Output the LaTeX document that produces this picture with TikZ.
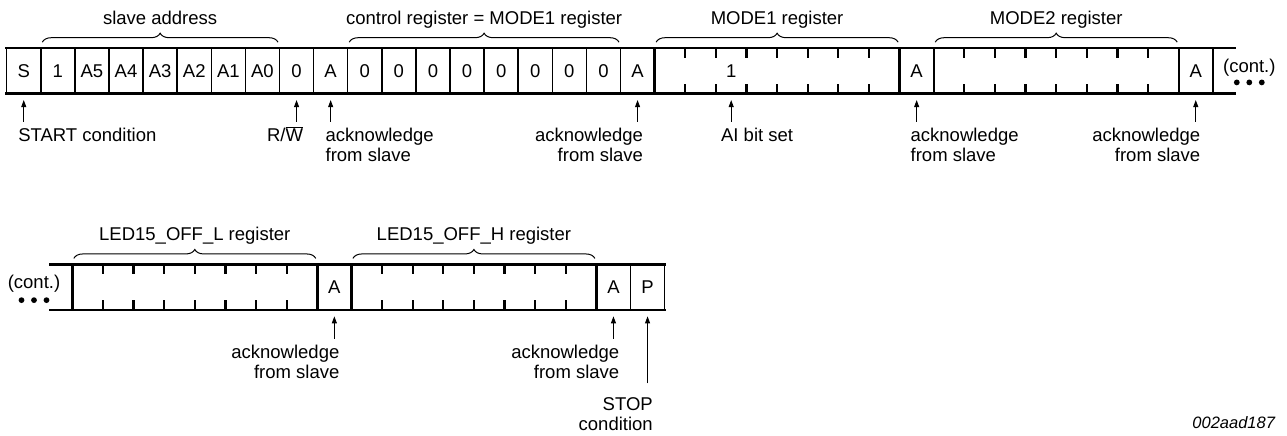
\documentclass[tikz,border=0pt]{standalone}
\usepackage{fontspec}
\setmainfont{Liberation Sans}
\usetikzlibrary{positioning, arrows.meta, decorations.pathreplacing}
\tikzstyle{cell} = [rectangle, draw=black, line width=1.5pt, minimum width=34.1pt, minimum height=45.4pt, inner sep=0pt, outer sep=0pt, text centered]
\tikzstyle{field} = [rectangle, draw=black, line width=2.4pt, minimum width=245pt, minimum height=45.4pt, inner sep=0pt, outer sep=0pt]
\tikzstyle{bus} = [line width=2.6pt, line cap=rect]
\tikzstyle{bittick} = [line width=2.2pt]
\tikzstyle{regbrace} = [decorate, decoration={brace, amplitude=9pt}, line width=1pt]
\tikzstyle{bracelbl} = [midway, anchor=base, yshift=17.5pt, inner sep=0pt]
\tikzstyle{lbl} = [inner sep=0pt, outer sep=0pt]
\tikzstyle{arrow} = [line width=0.9pt, -{Triangle[length=7pt, width=5pt]}, shorten >=6.5pt, shorten <=6.5pt]

\begin{document}
\begin{tikzpicture}[x=1pt, y=-1pt, font=\fontsize{18.5pt}{20pt}\selectfont]
\useasboundingbox (0,0) rectangle (1287,436);

% first frame: address, control register, MODE1, MODE2
\node (s) [cell] at (23.75,70.9) {S};
\node (b1) [cell, right=0pt of s] {1};
\node (a5) [cell, right=0pt of b1] {A5};
\node (a4) [cell, right=0pt of a5] {A4};
\node (a3) [cell, right=0pt of a4] {A3};
\node (a2) [cell, right=0pt of a3] {A2};
\node (a1) [cell, right=0pt of a2] {A1};
\node (a0) [cell, right=0pt of a1] {A0};
\node (rw) [cell, right=0pt of a0] {0};
\node (ack1) [cell, right=0pt of rw] {A};
\node (c7) [cell, right=0pt of ack1] {0};
\node (c6) [cell, right=0pt of c7] {0};
\node (c5) [cell, right=0pt of c6] {0};
\node (c4) [cell, right=0pt of c5] {0};
\node (c3) [cell, right=0pt of c4] {0};
\node (c2) [cell, right=0pt of c3] {0};
\node (c1) [cell, right=0pt of c2] {0};
\node (c0) [cell, right=0pt of c1] {0};
\node (ack2) [cell, right=0pt of c0] {A};
\node (mode1) [field, right=0pt of ack2] {};
\node (aibit) at ([xshift=76.6pt]mode1.west) {1};
\node (ack3) [cell, right=0pt of mode1] {A};
\node (mode2) [field, right=0pt of ack3] {};
\node (ack4) [cell, right=0pt of mode2] {A};
\coordinate (topn) at ([xshift=21.5pt]ack4.north east);
\coordinate (tops) at ([xshift=21.5pt]ack4.south east);
\node (conta) [lbl] at ([xshift=36.5pt, yshift=3.5pt]ack4.east) {(cont.)};

\draw [bus] (s.north west) -- (topn);
\draw [bus] (s.south west) -- (tops);

% second frame: LED15_OFF_L, LED15_OFF_H, stop
\node (ledl) [field] at (194.8,287.15) {};
\node (ack5) [cell, right=0pt of ledl] {A};
\node (ledh) [field, right=0pt of ack5] {};
\node (ack6) [cell, right=0pt of ledh] {A};
\node (stopbit) [cell, right=0pt of ack6] {P};
\coordinate (botn) at ([xshift=-22.3pt]ledl.north west);
\coordinate (bots) at ([xshift=-22.3pt]ledl.south west);
\node (contb) [lbl] at ([xshift=-38.3pt, yshift=3pt]ledl.west) {(cont.)};

\draw [bus] (botn) -- (stopbit.north east);
\draw [bus] (bots) -- (stopbit.south east);

% bit ticks in the register fields
\foreach \f in {mode1, mode2, ledl, ledh}
  \foreach \k in {1,...,7} {
    \draw [bittick] ([xshift=\k*30.625pt]\f.north west) -- ++(0,10);
    \draw [bittick] ([xshift=\k*30.625pt]\f.south west) -- ++(0,-10);
  }

% continuation dots
\foreach \dx in {-12.5,0,12.5} {
  \fill ([xshift=\dx pt, yshift=-15pt]conta.center) circle (2.9pt);
  \fill ([xshift=\dx pt, yshift=-16pt]contb.center) circle (2.9pt);
}

% braces
\draw [regbrace] ([xshift=1.5pt, yshift=6pt]b1.north west) -- ([xshift=-1.5pt, yshift=6pt]a0.north east) node[bracelbl] {slave address};
\draw [regbrace] ([xshift=1.5pt, yshift=6pt]c7.north west) -- ([xshift=-1.5pt, yshift=6pt]c0.north east) node[bracelbl] {control register = MODE1 register};
\draw [regbrace] ([xshift=1.5pt, yshift=6pt]mode1.north west) -- ([xshift=-1.5pt, yshift=6pt]mode1.north east) node[bracelbl] {MODE1 register};
\draw [regbrace] ([xshift=1.5pt, yshift=6pt]mode2.north west) -- ([xshift=-1.5pt, yshift=6pt]mode2.north east) node[bracelbl] {MODE2 register};
\draw [regbrace] ([xshift=1.5pt, yshift=6pt]ledl.north west) -- ([xshift=-1.5pt, yshift=6pt]ledl.north east) node[bracelbl] {LED15\_OFF\_L register};
\draw [regbrace] ([xshift=1.5pt, yshift=6pt]ledh.north west) -- ([xshift=-1.5pt, yshift=6pt]ledh.north east) node[bracelbl] {LED15\_OFF\_H register};

% labels under the frames
\node (startlbl) [lbl, below=34.5pt of s, anchor=north west, xshift=-5.5pt] {START condition};
\node (rwlbl) [lbl, below=34.5pt of rw, anchor=north east, xshift=6.5pt] {R/\smash{$\overline{\mbox{W}}$}};
\node (ack1lbl) [lbl, align=left, below=34.5pt of ack1, anchor=north west, xshift=-5pt] {acknowledge\\from slave};
\node (ack2lbl) [lbl, align=right, below=34.5pt of ack2, anchor=north east, xshift=5.5pt] {acknowledge\\from slave};
\node (ailbl) [lbl, anchor=north west] at ([xshift=66.5pt, yshift=-34.5pt]mode1.south west) {AI bit set};
\node (ack3lbl) [lbl, align=left, below=34.5pt of ack3, anchor=north west, xshift=-6pt] {acknowledge\\from slave};
\node (ack4lbl) [lbl, align=right, below=34.5pt of ack4, anchor=north east, xshift=4.5pt] {acknowledge\\from slave};
\node (ack5lbl) [lbl, align=right, below=35.5pt of ack5, anchor=north east, xshift=5pt] {acknowledge\\from slave};
\node (ack6lbl) [lbl, align=right, below=35.5pt of ack6, anchor=north east, xshift=5.8pt] {acknowledge\\from slave};
\node (stoplbl) [lbl, align=right, below=88pt of stopbit, anchor=north east, xshift=5.2pt] {STOP\\condition};
\node (figid) [lbl, anchor=east, font=\fontsize{16.5pt}{18pt}\selectfont\itshape] at (1275,423) {002aad187};

\draw [arrow] (startlbl.north -| s.south) -- (s.south);
\draw [arrow] (rwlbl.north -| rw.south) -- (rw.south);
\draw [arrow] (ack1lbl.north -| ack1.south) -- (ack1.south);
\draw [arrow] (ack2lbl.north -| ack2.south) -- (ack2.south);
\draw [arrow] (ailbl.north -| aibit) -- (aibit |- mode1.south);
\draw [arrow] (ack3lbl.north -| ack3.south) -- (ack3.south);
\draw [arrow] (ack4lbl.north -| ack4.south) -- (ack4.south);
\draw [arrow] (ack5lbl.north -| ack5.south) -- (ack5.south);
\draw [arrow] (ack6lbl.north -| ack6.south) -- (ack6.south);
\draw [arrow, shorten <=14.5pt] (stoplbl.north -| stopbit.south) -- (stopbit.south);

\end{tikzpicture}
\end{document}
